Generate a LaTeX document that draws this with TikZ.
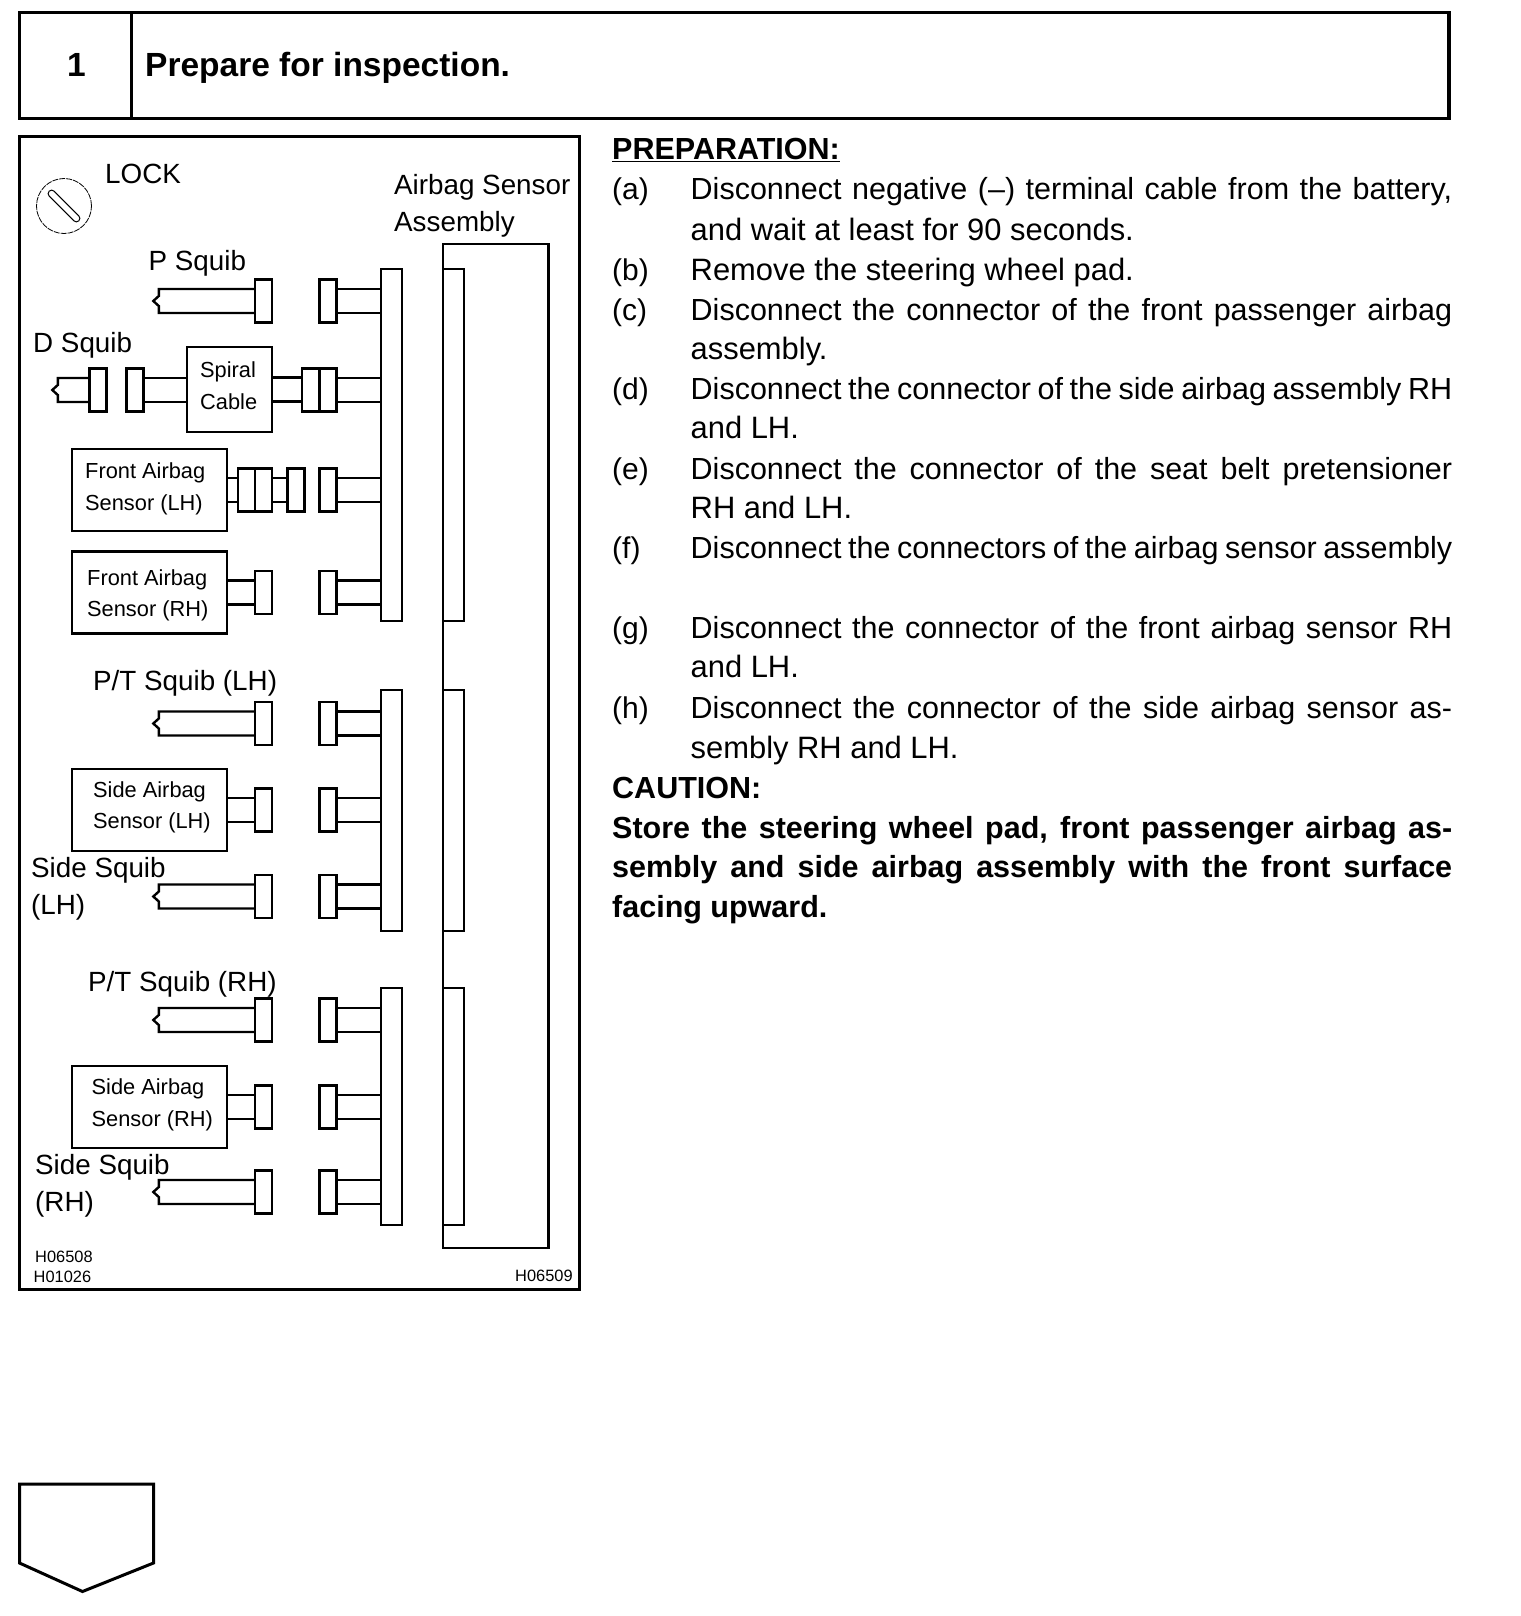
\documentclass[tikz,border=0pt]{standalone}
\usepackage{fontspec}
\setmainfont{Liberation Sans}
\usetikzlibrary{calc}
\newcommand{\twowires}[2]{
    \draw ([yshift=12pt]#1.east)--([yshift=12pt]#1.east-|#2.west);
    \draw ([yshift=-12pt]#1.east)--([yshift=-12pt]#1.east-|#2.west);
}
\newcommand{\pigtail}[2]{
    \draw ([yshift=12pt]#1.west)--++(-#2,0)--++(0,7)--++(-5.5,5)--++(5.5,5)--++(0,7)--([yshift=-12pt]#1.west);
}
\newcommand{\jline}[1]{\makebox[761.5pt][s]{#1}}
\newcommand{\kline}[1]{\makebox[840pt][s]{#1}}
\tikzset{
    plug/.style={draw,fill=white,inner sep=0,minimum width=17pt,minimum height=43pt},
    bus/.style={draw,inner sep=0,minimum width=21pt},
    sensorbox/.style={draw,inner sep=0,minimum width=155pt,minimum height=82pt},
    big/.style={anchor=base west,inner sep=0,font=\fontsize{27.8}{28}\selectfont},
    small/.style={anchor=base west,inner sep=0,font=\fontsize{21.8}{22}\selectfont},
    code/.style={anchor=base west,inner sep=0,font=\fontsize{16.4}{16.4}\selectfont},
    body/.style={anchor=base west,inner sep=0,font=\fontsize{30.9}{31}\selectfont},
    bodyj/.style={anchor=base west,inner sep=0,font=\fontsize{30.5}{31}\selectfont},
    tag/.style={anchor=base west,inner sep=0,font=\fontsize{30}{30}\selectfont},
    bodyb/.style={anchor=base west,inner sep=0,font=\fontsize{30.5}{31}\bfseries\selectfont}
}
\begin{document}
\begin{tikzpicture}[x=1pt,y=-1pt,line width=2.4pt]
\useasboundingbox (0,0) rectangle (1520,1616);
% header
\draw[line width=3.4pt](19.5,12.5) rectangle (1449,118.5);
\draw[line width=3pt](131.5,12.5)--(131.5,118.5);
\node[anchor=base,inner sep=0,font=\fontsize{33.5}{33.5}\bfseries\selectfont] (stepno) at (76.5,77){1};
\node[anchor=base west,inner sep=0,font=\fontsize{33.5}{33.5}\bfseries\selectfont] (steptitle) at (144,77){Prepare for inspection.};
% frame
\draw[line width=3pt](19.5,137) rectangle (579.5,1289);
\node[draw,circle,inner sep=0,minimum size=55pt,line width=.8pt,dash pattern=on 6pt off 1pt] (lockdial) at (64,206){};
\node[draw,rounded corners=3.5pt,inner sep=0,minimum width=42pt,minimum height=7pt,line width=1pt,rotate=-45] (lockslot) at (lockdial){};
\node[big] (lock) at (104,183.5){LOCK};
\node[big] (asm1) at (393,194){Airbag Sensor};
\node[big] (asm2) at (393,231){Assembly};
\node[draw,inner sep=0,minimum width=105.5pt,minimum height=1004pt] (assembly) at (495.7,746){};
\foreach \g/\y/\h in {a/445/352,b/810.5/241,c/1106.5/237}
{
    \node[bus,minimum height=\h pt] (bus\g) at (391.5,\y){};
    \node[bus,minimum height=\h pt] (inner\g) at (453.5,\y){};
}
% plugs on the sensor side
\foreach \r/\y/\g in {p/301/a,d/390/a,fl/490/a,fr/592.5/a,ptl/723.5/b,sl/810/b,ssl/896.5/b,ptr/1020/c,sr/1107/c,ssr/1192/c}
{
    \node[plug] (r\r) at (328,\y){};
    \twowires{r\r}{bus\g}
}
% plugs with a pigtail
\foreach \r/\y in {p/301,ptl/723.5,ssl/896.5,ptr/1020,ssr/1192}
{
    \node[plug] (l\r) at (263.5,\y){};
    \pigtail{l\r}{95}
}
% sensors
\foreach \r/\y in {fr/592.5,sl/810,sr/1107}
{
    \node[plug] (l\r) at (263.5,\y){};
    \node[sensorbox] (box\r) at (149.5,\y){};
    \twowires{box\r}{l\r}
}
% D squib
\node[draw,inner sep=0,minimum width=85pt,minimum height=85pt] (spiral) at (229.5,389.5){};
\node[plug] (d1) at (98,390){};
\node[plug] (d2) at (135,390){};
\node[plug] (d3) at (310.5,390){};
\pigtail{d1}{30.5}
\twowires{d2}{spiral}
\twowires{spiral}{d3}
% front sensor LH
\node[sensorbox] (boxfl) at (149.5,490){};
\node[plug] (f1) at (246.5,490){};
\node[plug] (f2) at (263.5,490){};
\node[plug] (f3) at (296,490){};
\twowires{boxfl}{f1}
\twowires{f2}{f3}
% labels
\node[big] (psquib) at (147.5,270){P Squib};
\node[big] (dsquib) at (32,352){D Squib};
\node[big] (ptl) at (92,690.5){P/T Squib (LH)};
\node[big] (ssl1) at (30,877){Side Squib};
\node[big] (ssl2) at (30,914){(LH)};
\node[big] (ptr) at (87,991.5){P/T Squib (RH)};
\node[big] (ssr1) at (34,1174.5){Side Squib};
\node[big] (ssr2) at (34,1211){(RH)};
\node[small] (sp1) at (199,377){Spiral};
\node[small] (sp2) at (199,409){Cable};
\node[small] (fl1) at (84,478.5){Front Airbag};
\node[small] (fl2) at (84,510.5){Sensor (LH)};
\node[small] (fr1) at (86,585.5){Front Airbag};
\node[small] (fr2) at (86,616.5){Sensor (RH)};
\node[small] (sl1) at (92,797.5){Side Airbag};
\node[small] (sl2) at (92,828.5){Sensor (LH)};
\node[small] (sr1) at (90.5,1094){Side Airbag};
\node[small] (sr2) at (90.5,1126){Sensor (RH)};
\node[code] (c1) at (34,1262){H06508};
\node[code] (c2) at (32.5,1282){H01026};
\node[code] (c3) at (514,1281){H06509};
% text
\node[bodyb] (prep) at (611,160){\underline{PREPARATION:}};
\foreach \t/\y/\s in {a/200/(a),b/280/(b),c/320.5/(c),d/399.8/(d),e/479.5/(e),f/558.5/(f),g/638.5/(g),h/718/(h)}
    \node[tag] (lab\t) at (611,\y){\s};
\node[bodyj] (a1) at (689.5,200){\jline{Disconnect negative (–) terminal cable from the battery,}};
\node[body] (a2) at (689.5,240){and wait at least for 90 seconds.};
\node[body] (b1) at (689.5,280){Remove the steering wheel pad.};
\node[bodyj] (c1t) at (689.5,320.5){\jline{Disconnect the connector of the front passenger airbag}};
\node[body] (c2t) at (689.5,359.6){assembly.};
\node[bodyj] (d1t) at (689.5,399.8){\jline{Disconnect the connector of the side airbag assembly RH}};
\node[body] (d2t) at (689.5,438.5){and LH.};
\node[bodyj] (e1t) at (689.5,479.5){\jline{Disconnect the connector of the seat belt pretensioner}};
\node[body] (e2t) at (689.5,518){RH and LH.};
\node[bodyj] (f1t) at (689.5,558.5){\jline{Disconnect the connectors of the airbag sensor assembly}};
\node[bodyj] (g1t) at (689.5,638.5){\jline{Disconnect the connector of the front airbag sensor RH}};
\node[body] (g2t) at (689.5,677.5){and LH.};
\node[bodyj] (h1t) at (689.5,718){\jline{Disconnect the connector of the side airbag sensor as-}};
\node[body] (h2t) at (689.5,758){sembly RH and LH.};
\node[bodyb] (caution) at (611,798){CAUTION:};
\node[bodyb] (st1) at (611,838){\kline{Store the steering wheel pad, front passenger airbag as-}};
\node[bodyb] (st2) at (611,877){\kline{sembly and side airbag assembly with the front surface}};
\node[bodyb] (st3) at (611,917){facing upward.};
% tab at the bottom
\draw[line width=3pt](19.5,1484)--(153.5,1484)--(153.5,1563)--(82.5,1591.5)--(19.5,1563)--cycle;
\end{tikzpicture}
\end{document}
